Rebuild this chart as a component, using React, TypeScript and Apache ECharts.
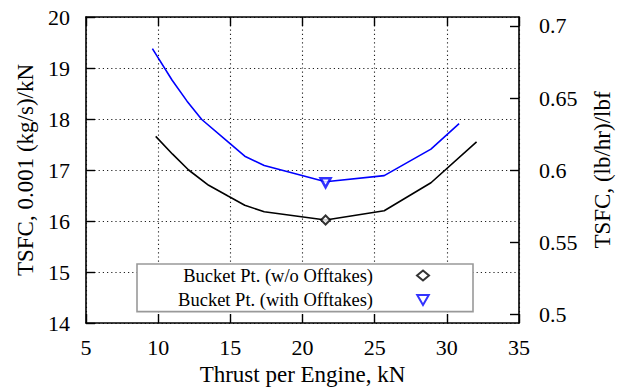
import React, { useEffect, useRef } from "react";
import * as echarts from "echarts";

// Thrust per engine (kN) and TSFC (0.001 (kg/s)/kN) along each engine line
const thrustNoOfftakes = [9.83, 11.0, 12.11, 13.5, 14.84, 16.0, 17.35, 21.6, 25.66, 28.9, 32.06];
const tsfcNoOfftakes = [17.66, 17.31, 17.0, 16.7, 16.49, 16.31, 16.18, 16.02, 16.2, 16.75, 17.55];

const thrustOfftakes = [9.6, 10.97, 12.0, 13.02, 14.84, 16.0, 17.35, 21.6, 25.66, 28.9, 30.85];
const tsfcOfftakes = [19.38, 18.76, 18.35, 17.99, 17.55, 17.27, 17.09, 16.77, 16.89, 17.41, 17.91];

// Bucket points (minimum TSFC)
const bucketNoOfftakes = [21.6, 16.02];
const bucketOfftakes = [21.6, 16.75];

const legendNames = ["Bucket Pt. (w/o Offtakes)", "Bucket Pt. (with Offtakes)"];

// Left axis range, x axis range
const xTicks = { min: 5, max: 35, interval: 5 };
const yTicks = { min: 14, max: 20, interval: 1 };
// Right axis ticks in (lb/hr)/lbf
const rightTicks = [0.5, 0.55, 0.6, 0.65, 0.7];
// g/(kN s) -> lb/(lbf hr)
const SI_TO_IMPERIAL = 0.035304;

const FONT = "'Liberation Serif', 'DejaVu Serif', serif";
// downward-pointing triangle marker
const TRIANGLE_DOWN = "path://M0,0L10,0L5,8.66Z";

const zip = (xs: number[], ys: number[]) => xs.map((x, i) => [x, ys[i]]);

export default function App() {
  const ref = useRef<HTMLDivElement>(null);

  useEffect(() => {
    if (!ref.current) return;
    const chart = echarts.init(ref.current, undefined, { renderer: "svg" });

    const axisLine = { show: true, lineStyle: { color: "#000", width: 1.6 } };
    const gridLine = {
      show: true,
      lineStyle: { color: "#222", width: 1.1, type: [1.2, 3] as any },
    };
    const tick = { show: true, inside: true, length: 9, lineStyle: { color: "#000", width: 1.4 } };
    const tickLabel = { color: "#000", fontFamily: FONT, fontSize: 22 };
    const nameStyle = { color: "#000", fontFamily: FONT, fontSize: 23 };

    chart.setOption({
      animation: false,
      backgroundColor: "#fff",
      grid: { left: 86, right: 97, top: 17, bottom: 68 },
      xAxis: [
        {
          type: "value",
          position: "bottom",
          min: xTicks.min,
          max: xTicks.max,
          interval: xTicks.interval,
          name: "Thrust per Engine, kN",
          nameLocation: "middle",
          nameGap: 40,
          nameTextStyle: nameStyle,
          axisLine,
          axisTick: tick,
          axisLabel: { ...tickLabel, margin: 13 },
          splitLine: gridLine,
        },
        {
          type: "value",
          position: "top",
          min: xTicks.min,
          max: xTicks.max,
          interval: xTicks.interval,
          axisLine,
          axisTick: tick,
          axisLabel: { show: false },
          splitLine: { show: false },
        },
      ],
      yAxis: [
        {
          type: "value",
          position: "left",
          min: yTicks.min,
          max: yTicks.max,
          interval: yTicks.interval,
          name: "TSFC, 0.001 (kg/s)/kN",
          nameLocation: "middle",
          nameGap: 48,
          nameTextStyle: nameStyle,
          axisLine,
          axisTick: tick,
          axisLabel: { ...tickLabel, margin: 16 },
          splitLine: gridLine,
        },
        {
          type: "value",
          position: "right",
          min: yTicks.min * SI_TO_IMPERIAL,
          max: yTicks.max * SI_TO_IMPERIAL,
          name: "TSFC, (lb/hr)/lbf",
          nameLocation: "middle",
          nameGap: 72,
          nameRotate: 90,
          nameTextStyle: nameStyle,
          axisLine,
          axisTick: { ...tick, customValues: rightTicks },
          axisLabel: {
            ...tickLabel,
            margin: 20,
            customValues: rightTicks,
            formatter: (v: number) => String(Math.round(v * 100) / 100),
          },
          splitLine: { show: false },
        },
      ],
      legend: {
        data: legendNames,
        orient: "vertical",
        left: 137,
        top: 264,
        align: "right",
        itemWidth: 12,
        itemHeight: 10,
        itemGap: 5.6,
        padding: [2, 43, 2, 24],
        backgroundColor: "#fff",
        borderColor: "#999",
        borderWidth: 1.6,
        borderRadius: 0,
        selectedMode: false,
        formatter: (name: string) => `{t|${name}}`,
        textStyle: {
          rich: {
            t: {
              width: 212,
              align: "right",
              padding: [0, 39, 0, 0],
              fontFamily: FONT,
              fontSize: 18.5,
              lineHeight: 20,
              color: "#000",
            },
          },
        },
      },
      series: [
        {
          name: "w/o Offtakes",
          type: "line",
          data: zip(thrustNoOfftakes, tsfcNoOfftakes),
          showSymbol: false,
          lineStyle: { color: "#000", width: 1.6 },
          z: 3,
        },
        {
          name: "with Offtakes",
          type: "line",
          data: zip(thrustOfftakes, tsfcOfftakes),
          showSymbol: false,
          lineStyle: { color: "#0000ff", width: 1.6 },
          z: 3,
        },
        {
          name: legendNames[0],
          type: "scatter",
          data: [bucketNoOfftakes],
          symbol: "diamond",
          symbolSize: 9,
          itemStyle: { color: "#fff", borderColor: "#000", borderWidth: 2 },
          z: 5,
        },
        {
          name: legendNames[1],
          type: "scatter",
          data: [bucketOfftakes],
          symbol: TRIANGLE_DOWN,
          symbolSize: [10, 9],
          itemStyle: { color: "#fff", borderColor: "#0000ff", borderWidth: 2.5 },
          z: 5,
        },
      ],
    });

    return () => chart.dispose();
  }, []);

  return (
    <div
      ref={ref}
      style={{ position: "absolute", left: 0, top: 0, width: 622, height: 391 }}
    />
  );
}
